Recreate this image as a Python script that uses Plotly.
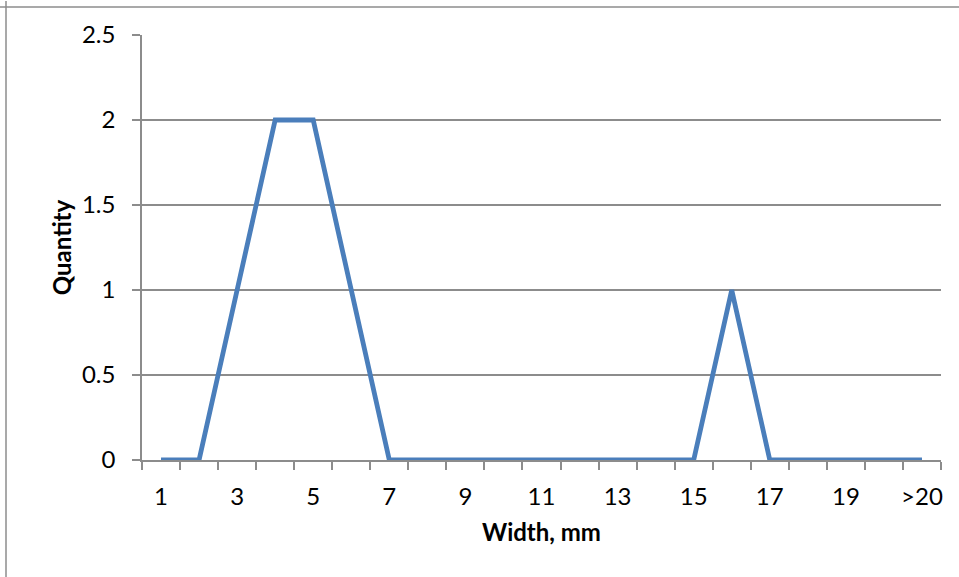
import plotly.graph_objects as go

# Width classes (mm) and counted quantity per class
widths = [str(i) for i in range(1, 21)] + [">20"]
quantity = [0, 0, 1, 2, 2, 1, 0, 0, 0, 0, 0, 0, 0, 0, 0, 1, 0, 0, 0, 0, 0]
# Only every other class is labelled on the axis
tick_labels = [w if i % 2 == 0 else "" for i, w in enumerate(widths)]

GRID = "#8c8c8c"
FONT = "Lato"

fig = go.Figure()
fig.add_trace(go.Scatter(
    x=widths, y=quantity, mode="lines",
    line=dict(color="#4a7ebb", width=4.8),
    showlegend=False, hoverinfo="x+y",
))

fig.update_layout(
    width=959, height=577,
    margin=dict(l=142, r=18, t=35, b=117, autoexpand=False),
    paper_bgcolor="white", plot_bgcolor="white",
    font=dict(family=FONT, size=24, color="#000000"),
    xaxis=dict(
        type="category", categoryorder="array", categoryarray=widths,
        tickmode="array", tickvals=widths, ticktext=tick_labels,
        tickangle=0, automargin=False,
        tickson="boundaries", ticks="outside", ticklen=8, tickwidth=1.5,
        tickcolor=GRID, showgrid=False, showline=True, linecolor=GRID,
        linewidth=1.5, ticklabelstandoff=14, range=[-0.5, 20.5],
        title=dict(text="<b>Width, mm</b>", font=dict(size=24), standoff=16),
        zeroline=False,
    ),
    yaxis=dict(
        range=[0, 2.5], tickmode="array", tickvals=[0, 0.5, 1, 1.5, 2, 2.5],
        ticktext=["0", "0.5", "1", "1.5", "2", "2.5"], automargin=False,
        ticks="outside", ticklen=8, tickwidth=1.5, tickcolor=GRID,
        showgrid=True, gridcolor=GRID, gridwidth=1.5,
        showline=True, linecolor=GRID, linewidth=1.5,
        ticklabelstandoff=12, zeroline=False,
        title=dict(text="<b>Quantity</b>", font=dict(size=24), standoff=4),
    ),
)

# Chart frame: left and top edges
fig.add_shape(type="line", xref="paper", yref="paper",
              xsizemode="pixel", xanchor=0, x0=-136, x1=-136, y0=-2, y1=1.08,
              line=dict(color=GRID, width=1.5))
fig.add_shape(type="line", xref="paper", yref="paper",
              ysizemode="pixel", yanchor=1, y0=28, y1=28, x0=-0.2, x1=1.1,
              line=dict(color=GRID, width=1.5))

fig.write_html("out.html")
